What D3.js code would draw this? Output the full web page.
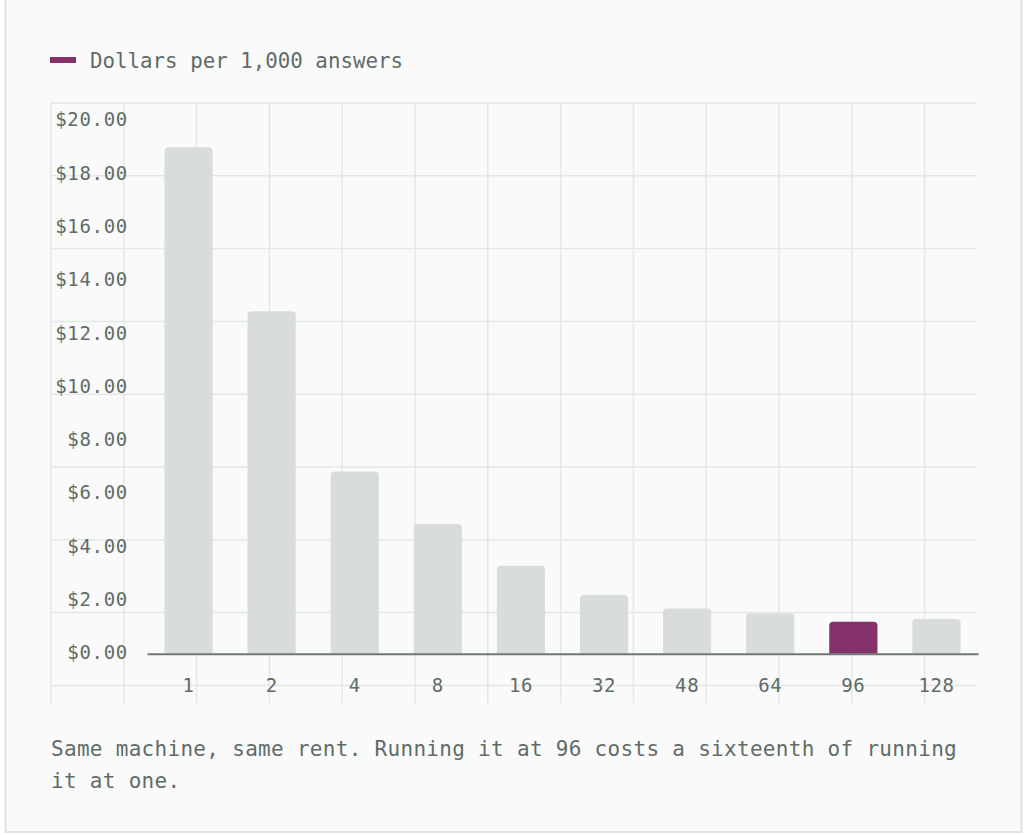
<!DOCTYPE html>
<html>
<head>
<meta charset="utf-8">
<script src="https://cdn.jsdelivr.net/npm/d3@7"></script>
<style>
  html, body { margin: 0; padding: 0; background: #fff; }
  svg { display: block; }
  text { font-family: "DejaVu Sans Mono", "Liberation Mono", monospace; fill: #5f6c67; }
</style>
</head>
<body>
<div id="chart"></div>
<script>
// data
var threads = ["1", "2", "4", "8", "16", "32", "48", "64", "96", "128"];
var dollars = [19.00, 12.85, 6.84, 4.87, 3.30, 2.20, 1.70, 1.52, 1.20, 1.30];
var highlight = "96";
var yTicks = [0, 2, 4, 6, 8, 10, 12, 14, 16, 18, 20];
var legendLabel = "Dollars per 1,000 answers";
var caption = "Same machine, same rent. Running it at 96 costs a sixteenth of running it at one.";

var width = 1024;
var height = 835;

var svg = d3.select("#chart")
    .append("svg")
    .attr("width", width)
    .attr("height", height);

// card
svg.append("rect")
    .attr("x", 5.5).attr("y", -10)
    .attr("width", 1016).attr("height", 842)
    .attr("fill", "#fafafa")
    .attr("stroke", "#e0e2e1")
    .attr("stroke-width", 2);

// background grid pattern behind the plot
var cell = 72.8;
var grid = svg.append("g").attr("stroke", "#e3e7e5").attr("stroke-width", 1.5);
grid.selectAll("line.v")
    .data(d3.range(51, 977, cell))
    .enter().append("line")
    .attr("class", "v")
    .attr("x1", d => d).attr("x2", d => d)
    .attr("y1", 103).attr("y2", 703);
grid.selectAll("line.h")
    .data(d3.range(103, 703, cell))
    .enter().append("line")
    .attr("class", "h")
    .attr("x1", 51).attr("x2", 977)
    .attr("y1", d => d).attr("y2", d => d);

// scales
var x = d3.scaleBand()
    .domain(threads)
    .range([147, 978])
    .paddingInner(0.42)
    .paddingOuter(0.21);

var y = d3.scaleLinear()
    .domain([0, 20])
    .range([653.7, 120.7]);

// bar with rounded top corners only
function topRounded(x0, y0, w, h, r) {
    r = Math.min(r, h, w / 2);
    return "M" + x0 + "," + (y0 + h) +
        "V" + (y0 + r) +
        "Q" + x0 + "," + y0 + " " + (x0 + r) + "," + y0 +
        "H" + (x0 + w - r) +
        "Q" + (x0 + w) + "," + y0 + " " + (x0 + w) + "," + (y0 + r) +
        "V" + (y0 + h) + "Z";
}

svg.append("g").selectAll("path")
    .data(threads)
    .enter().append("path")
    .attr("d", (t, i) => topRounded(x(t), y(dollars[i]), x.bandwidth(), y(0) - y(dollars[i]), 4))
    .attr("fill", t => t === highlight ? "#84316a" : "#d9ddda");

// y axis labels
var yAxis = svg.append("g")
    .attr("transform", "translate(128,0)")
    .call(d3.axisLeft(y).tickValues(yTicks).tickFormat(d3.format("$.2f")).tickSize(0).tickPadding(0));
yAxis.select(".domain").remove();
yAxis.selectAll("text")
    .attr("dy", "0.27em")
    .style("font-size", "19px")
    .style("letter-spacing", "0.7px")
    .style("fill", "#5f6c67");

// x axis, its domain line is the baseline
var xAxis = svg.append("g")
    .attr("transform", "translate(0,653.7)")
    .call(d3.axisBottom(x).tickSize(0).tickSizeOuter(0).tickPadding(25));
xAxis.select(".domain")
    .attr("stroke", "#6d7873")
    .attr("stroke-width", 2);
xAxis.selectAll("text")
    .style("font-size", "19px")
    .style("letter-spacing", "0.6px")
    .style("fill", "#5f6c67");

// legend
svg.append("rect")
    .attr("x", 50).attr("y", 57)
    .attr("width", 26).attr("height", 6)
    .attr("fill", "#84316a");
svg.append("text")
    .attr("x", 90).attr("y", 68)
    .style("font-size", "20.8px")
    .text(legendLabel);

// caption, wrapped to the plot width
var cap = svg.append("text")
    .attr("x", 51).attr("y", 756)
    .style("font-size", "21px")
    .style("letter-spacing", "0.3px");
var words = caption.split(" ");
var line = [];
var tspan = cap.append("tspan").attr("x", 51).attr("dy", 0);
words.forEach(function(w) {
    line.push(w);
    tspan.text(line.join(" "));
    if (tspan.node().getComputedTextLength() > 926 && line.length > 1) {
        line.pop();
        tspan.text(line.join(" "));
        line = [w];
        tspan = cap.append("tspan").attr("x", 51).attr("dy", 32).text(w);
    }
});
</script>
</body>
</html>
